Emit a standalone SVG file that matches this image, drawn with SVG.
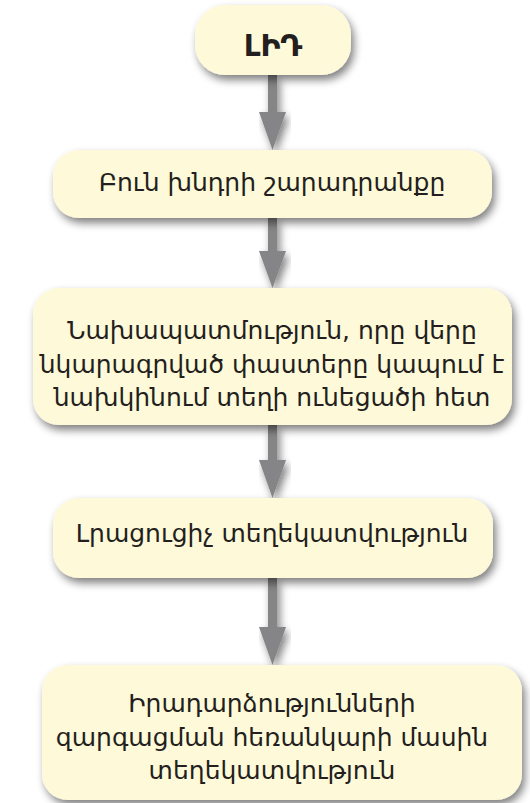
<svg xmlns="http://www.w3.org/2000/svg" width="530" height="803" viewBox="0 0 530 803">
<defs>
<filter id="sh" x="-10%" y="-20%" width="125%" height="150%">
<feGaussianBlur in="SourceAlpha" stdDeviation="4"/>
<feOffset dx="3" dy="5" result="b"/>
<feComponentTransfer><feFuncA type="linear" slope="0.5"/></feComponentTransfer>
<feMerge><feMergeNode/><feMergeNode in="SourceGraphic"/></feMerge>
</filter>
</defs>
<style>
.box{fill:#fef9d8;filter:url(#sh)}
.t{font-family:"DejaVu Sans","Noto Sans",sans-serif;font-size:25px;fill:#231f20;text-anchor:middle}
.h{font-weight:bold;font-size:30px}
.sh{fill:#858587}
</style>
<g id="connectors">
<g filter="url(#sh)">
<rect class="sh" x="268" y="75" width="9" height="40"/>
<polygon class="sh" points="259,112 286,112 272.5,150"/>
<rect class="sh" x="268" y="218" width="9" height="36"/>
<polygon class="sh" points="259,251 286,251 272.5,288"/>
<rect class="sh" x="268" y="425" width="9" height="37"/>
<polygon class="sh" points="259,460 286,460 272.5,498"/>
<rect class="sh" x="268" y="578" width="9" height="50"/>
<polygon class="sh" points="259,627 286,627 272.5,665"/>
</g>
</g>
<g id="n1">
<rect class="box" x="195" y="5" width="156" height="70" rx="30"/>
<text class="t h" x="273" y="56">ԼԻԴ</text>
</g>
<g id="n2">
<rect class="box" x="53" y="150" width="439" height="68" rx="26"/>
<text class="t" x="272" y="191">Բուն խնդրի շարադրանքը</text>
</g>
<g id="n3">
<rect class="box" x="33" y="288" width="479" height="137" rx="26"/>
<text class="t" x="272" y="339">Նախապատմություն, որը վերը</text>
<text class="t" x="272" y="373">նկարագրված փաստերը կապում է</text>
<text class="t" x="272" y="406">նախկինում տեղի ունեցածի հետ</text>
</g>
<g id="n4">
<rect class="box" x="53" y="498" width="440" height="80" rx="26"/>
<text class="t" x="272" y="542">Լրացուցիչ տեղեկատվություն</text>
</g>
<g id="n5">
<rect class="box" x="42" y="665" width="480" height="135" rx="26"/>
<text class="t" x="272" y="712">Իրադարձությունների</text>
<text class="t" x="272" y="746">զարգացման հեռանկարի մասին</text>
<text class="t" x="272" y="779">տեղեկատվություն</text>
</g>
</svg>
